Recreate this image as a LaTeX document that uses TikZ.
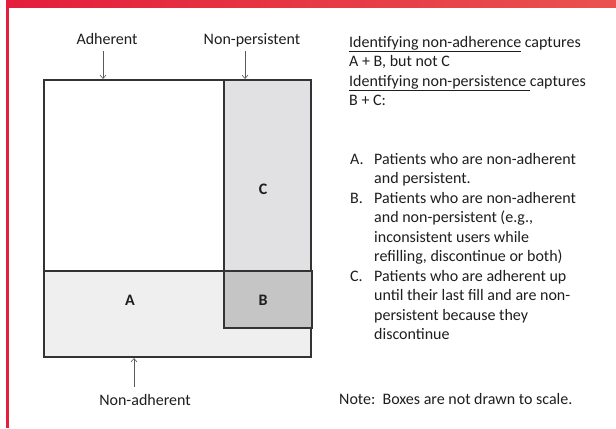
\documentclass[tikz,border=0pt]{standalone}
\usepackage{fontspec}
\setmainfont{Carlito}
\usetikzlibrary{arrows.meta}
\definecolor{redA}{HTML}{E41E3B}
\definecolor{redB}{HTML}{E9524F}
\definecolor{txt}{HTML}{1E1E1E}
\definecolor{edge}{HTML}{333333}
\definecolor{fillA}{HTML}{EFEFEF}
\definecolor{fillB}{HTML}{C5C5C5}
\definecolor{fillC}{HTML}{E1E1E3}
\newcommand{\myul}[1]{\setbox0\hbox{#1}\rlap{\rule[-4.6bp]{\wd0}{1.1bp}}\box0\relax}
\begin{document}
\begin{tikzpicture}[x=1bp,y=-1bp,
  txtline/.style={anchor=base west, inner sep=0pt, font=\fontsize{16bp}{19.5bp}\selectfont, text=txt},
  lbl/.style={anchor=base, inner sep=0pt, font=\fontsize{16bp}{19.5bp}\selectfont, text=txt},
  region/.style={anchor=center, inner sep=0pt, font=\fontsize{16bp}{19.5bp}\selectfont\bfseries, text=txt},
  pointer/.style={draw=black!65, line width=0.6bp, -{Straight Barb[length=3.5bp,width=6bp]}},
  box/.style={draw=edge, line width=1.4bp}]
\useasboundingbox (0,0) rectangle (616,428);
\fill[white] (0,0) rectangle (616,428);
% red frame
\shade[left color=redA, right color=redB] (6,0) rectangle (616,7);
\fill[redA] (6,0) rectangle (9,428);
% boxes
\fill[fillA] (44,271) rectangle (311,357);
\fill[fillC] (224,80) rectangle (311,271);
\draw[box] (44,80) rectangle (311,357);
\draw[box] (224,80) rectangle (311,271);
\draw[box] (44,271) -- (224,271);
\draw[box, fill=fillB] (224,271) rectangle (312,328);
% region labels
\node[region] (A) at (130,300) {A};
\node[region] (B) at (263,300) {B};
\node[region] (C) at (263,189) {C};
% top / bottom labels and pointers
\node[lbl] (adh) at (107,44) {Adherent};
\node[lbl] (nper) at (252,44) {Non-persistent};
\node[lbl] (nadh) at (145,405) {Non-adherent};
\coordinate (adhS) at (103,51);
\coordinate (adhE) at (103,79);
\coordinate (nperS) at (245,51);
\coordinate (nperE) at (245,79);
\coordinate (nadhS) at (134,387);
\coordinate (nadhE) at (134,358);
\draw[pointer] (adhS) -- (adhE);
\draw[pointer] (nperS) -- (nperE);
\draw[pointer] (nadhS) -- (nadhE);
% heading text
\node[txtline] (h1) at (349,47) {\myul{Identifying non-adherence} captures};
\node[txtline] (h2) at (349,66.5) {A + B, but not C};
\node[txtline] (h3) at (349,86) {\myul{Identifying non-persistence\ }captures};
\node[txtline] (h4) at (349,105.5) {B + C:};
% list
\node[txtline] (la) at (350,164) {A.};
\node[txtline] (la1) at (374,164) {Patients who are non-adherent};
\node[txtline] (la2) at (374,183.5) {and persistent.};
\node[txtline] (lb) at (350,203) {B.};
\node[txtline] (lb1) at (374,203) {Patients who are non-adherent};
\node[txtline] (lb2) at (374,222.5) {and non-persistent (e.g.,};
\node[txtline] (lb3) at (374,242) {inconsistent users while};
\node[txtline] (lb4) at (374,261.5) {refilling, discontinue or both)};
\node[txtline] (lc) at (350,281) {C.};
\node[txtline] (lc1) at (374,281) {Patients who are adherent up};
\node[txtline] (lc2) at (374,300.5) {until their last fill and are non-};
\node[txtline] (lc3) at (374,320) {persistent because they};
\node[txtline] (lc4) at (374,339.5) {discontinue};
% note
\node[txtline] (note) at (339,404) {Note:\ \ Boxes are not drawn to scale.};
\end{tikzpicture}
\end{document}
